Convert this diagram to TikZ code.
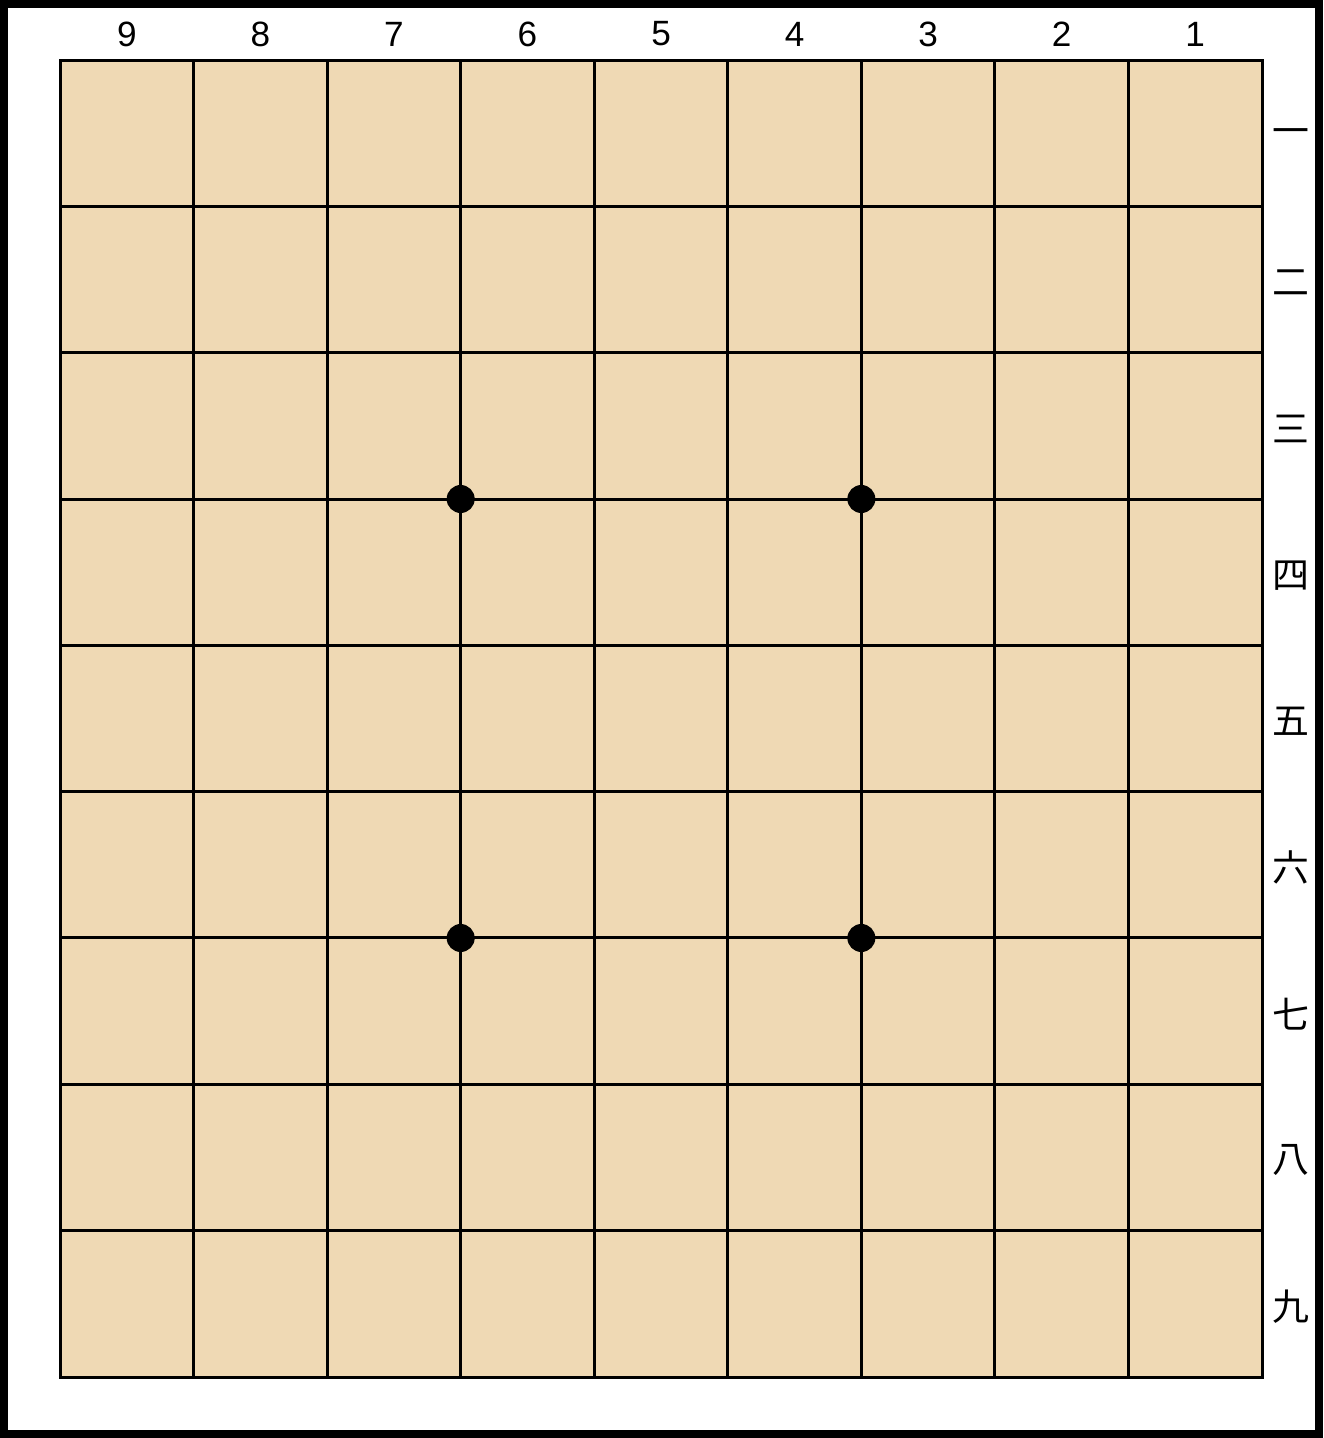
\documentclass[tikz,border=0pt]{standalone}
\usepackage{fontspec}
\setmainfont{Liberation Sans}
\newfontfamily\jpfont{Noto Sans CJK JP}
\usetikzlibrary{calc}
\definecolor{boardtan}{RGB}{239,217,180}

\begin{document}
\begin{tikzpicture}[
    x=0.02cm, y=-0.02cm,
    frame/.style={draw=black, line width=0.16cm},
    board/.style={fill=boardtan, draw=black, line width=0.06cm},
    gridline/.style={draw=black, line width=0.06cm},
    star/.style={circle, fill=black, inner sep=0pt, minimum size=0.56cm},
    filelabel/.style={font=\fontsize{20}{24}\selectfont, inner sep=0pt},
    ranklabel/.style={font=\jpfont\fontsize{21}{24}\selectfont, inner sep=0pt}
]
    \useasboundingbox (0,0) rectangle (1323,1438);

    % Outer frame
    \draw[frame] (4,4) rectangle (1319,1434);

    % Board and grid
    \def\cw{133.56}
    \def\ch{146.33}
    \path[board] (60,60) rectangle (1262,1377);
    \foreach \i in {1,...,8} {
        \draw[gridline] (60+\i*\cw,60) -- (60+\i*\cw,1377);
        \draw[gridline] (60,60+\i*\ch) -- (1262,60+\i*\ch);
    }
    \draw[board, fill=none] (60,60) rectangle (1262,1377);

    % Star points
    \foreach \c in {3,6} {
        \foreach \r in {3,6} {
            \node[star] (star\c\r) at (60+\c*\cw,60+\r*\ch) {};
        }
    }

    % File numbers
    \foreach \n [count=\k from 0] in {9,8,7,6,5,4,3,2,1} {
        \node[filelabel] (file\n) at (60+\k*\cw+0.5*\cw,34) {\n};
    }

    % Rank numerals
    \foreach \m [count=\k from 0] in {一,二,三,四,五,六,七,八,九} {
        \node[ranklabel] (rank\k) at (1291,63+\k*\ch+0.5*\ch) {\m};
    }
\end{tikzpicture}
\end{document}
